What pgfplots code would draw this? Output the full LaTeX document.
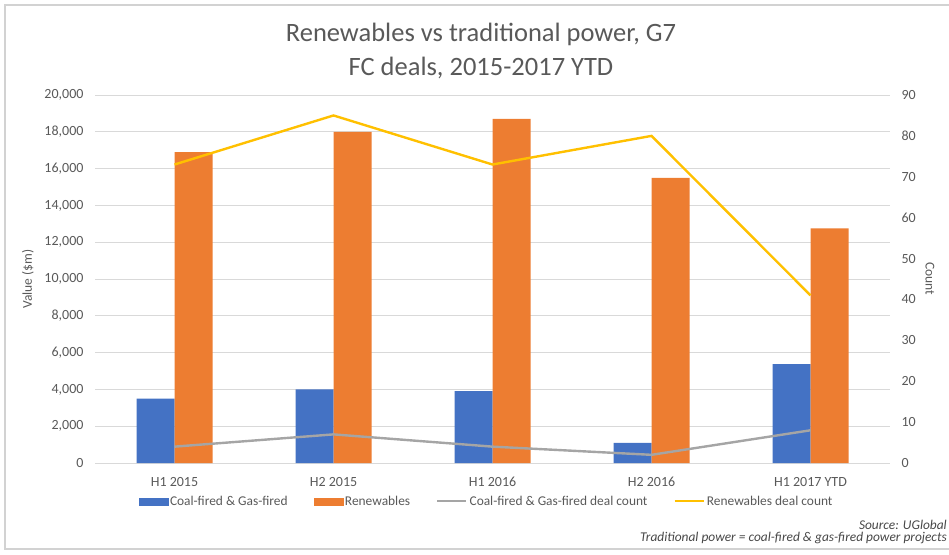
\documentclass[border=0pt]{standalone}
\usepackage{pgfplots}
\pgfplotsset{compat=1.18}
\usepackage{fontspec}
\setmainfont{Carlito}

\definecolor{cblue}{RGB}{68,114,196}
\definecolor{corange}{RGB}{237,125,49}
\definecolor{cgray}{RGB}{165,165,165}
\definecolor{cyellow}{RGB}{255,192,0}
\definecolor{txtgray}{RGB}{89,89,89}
\definecolor{gridgray}{RGB}{217,217,217}
\definecolor{framegray}{RGB}{210,210,210}

\pgfplotsset{
  common/.style={
    at={(95pt,91pt)}, anchor=south west,
    width=795pt, height=368pt, scale only axis,
    xmin=-0.5, xmax=4.5,
    major tick length=0pt,
    axis line style={draw=none},
    tick label style={text=txtgray, font=\fontsize{14}{16}\selectfont},
    label style={text=txtgray, font=\fontsize{13.5}{16}\selectfont},
    /pgf/number format/assume math mode=true,
    /pgf/number format/1000 sep={,},
    scaled y ticks=false,
  },
}

\begin{document}
\begin{tikzpicture}[x=1pt,y=1pt]
\path[use as bounding box] (0,0) rectangle (949,554);
\draw[framegray, line width=1.2pt] (5,5) rectangle (965,549);

\node[text=txtgray, font=\fontsize{26.5}{30}\selectfont] at (481,520) {Renewables vs traditional power, G7};
\node[text=txtgray, font=\fontsize{26.5}{30}\selectfont] at (481,486) {FC deals, 2015-2017 YTD};

% deal values (left axis)
\begin{axis}[common,
  ymin=0, ymax=20000,
  ytick={0,2000,...,20000},
  xtick={0,1,2,3,4},
  xticklabels={H1 2015,H2 2015,H1 2016,H2 2016,H1 2017 YTD},
  xticklabel style={yshift=-11pt},
  yticklabel style={xshift=-8pt},
  ymajorgrids, grid style={gridgray, line width=0.9pt},
  ylabel={Value (\$m)},
  ylabel style={at={(axis description cs:-0.0843,0.5)}, anchor=center},
  ybar, bar width=38pt,
]
\addplot[fill=cblue, draw=none, bar shift=-19pt] coordinates
  {(0,3500) (1,4000) (2,3900) (3,1100) (4,5380)};
\addplot[fill=corange, draw=none, bar shift=19pt] coordinates
  {(0,16900) (1,18000) (2,18700) (3,15500) (4,12750)};
\end{axis}

% deal counts (right axis)
\begin{axis}[common,
  ymin=0, ymax=90,
  ytick={0,10,...,90},
  yticklabel style={xshift=8pt},
  axis y line*=right, axis x line=none,
  ylabel={Count},
  ylabel style={at={(axis description cs:1.0503,0.5)}, anchor=center, rotate=180},
  legend columns=4,
  legend style={at={(axis description cs:0.4925,-0.104)}, anchor=center,
    draw=none, fill=none, text=txtgray, font=\fontsize{13.4}{15}\selectfont,
    /tikz/every even column/.append style={column sep=24pt},
    inner sep=0pt},
  legend image code/.code={\draw[#1] (0pt,0pt) -- (29pt,0pt);},
]
\addlegendimage{legend image code/.code={\fill[cblue] (0pt,-3.5pt) rectangle (29pt,3.5pt);}}
\addlegendentry{Coal-fired \& Gas-fired}
\addlegendimage{legend image code/.code={\fill[corange] (0pt,-3.5pt) rectangle (29pt,3.5pt);}}
\addlegendentry{Renewables}
\addplot[cgray, line width=2.4pt] coordinates
  {(0,4) (1,7) (2,4) (3,2) (4,8)};
\addlegendentry{Coal-fired \& Gas-fired deal count}
\addplot[cyellow, line width=2.4pt] coordinates
  {(0,73) (1,85) (2,73) (3,80) (4,41)};
\addlegendentry{Renewables deal count}
\end{axis}

\node[anchor=east, inner sep=0pt, text=txtgray!80!black, font=\fontsize{13.4}{15}\selectfont\itshape] at (947,29) {Source: UGlobal};
\node[anchor=east, inner sep=0pt, text=txtgray!80!black, font=\fontsize{13.4}{15}\selectfont\itshape] at (947,16) {Traditional power = coal-fired \& gas-fired power projects};
\end{tikzpicture}
\end{document}
